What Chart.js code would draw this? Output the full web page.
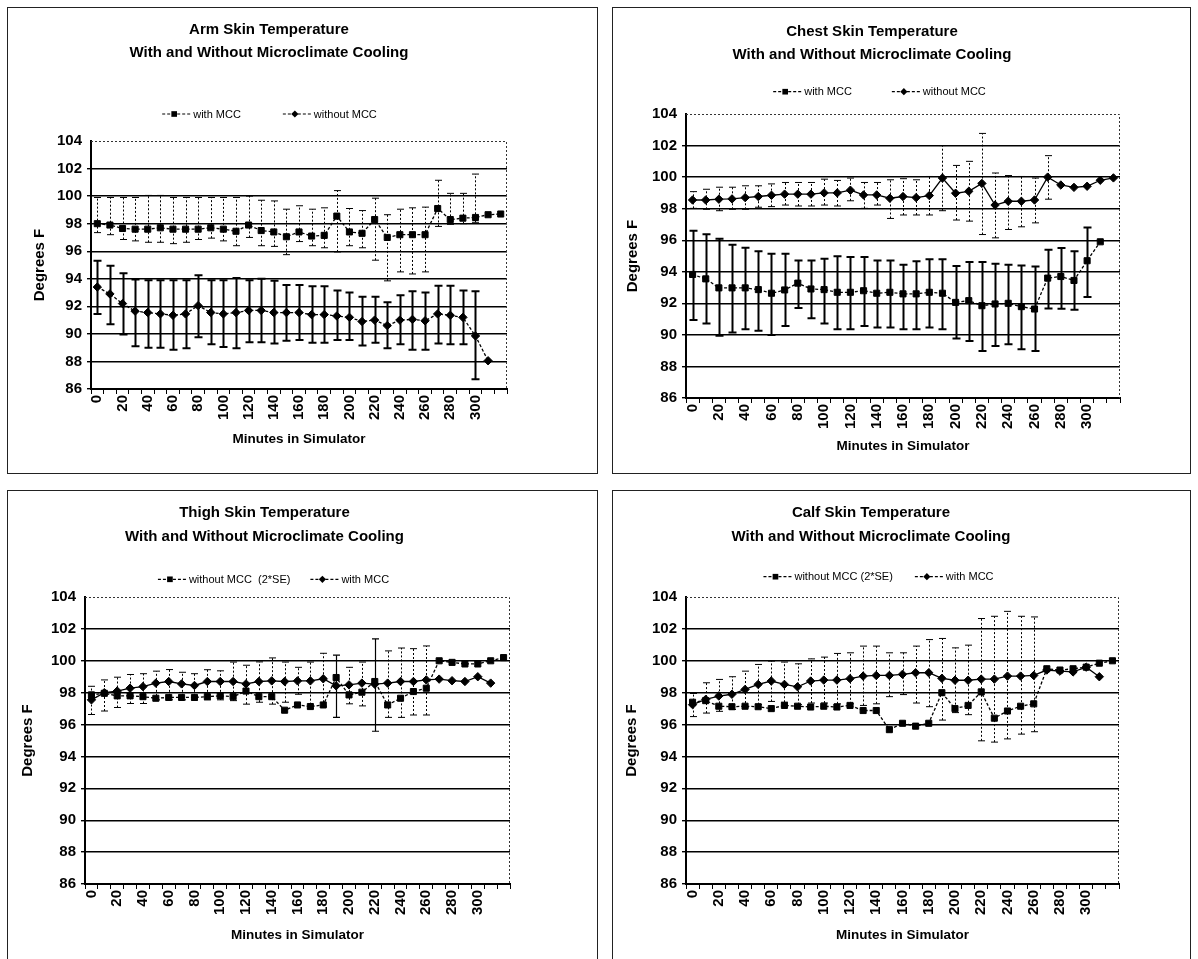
<!DOCTYPE html>
<html>
<head>
<meta charset="utf-8">
<script src="https://cdn.jsdelivr.net/npm/chart.js@4/dist/chart.umd.min.js"></script>
<style>
  html, body { margin: 0; padding: 0; background: #fff; width: 1198px; height: 959px; overflow: hidden; }
  .panel { position: absolute; border: 1px solid #222; box-sizing: border-box; background: #fff; }
  .panel canvas { display: block; }
</style>
</head>
<body>
<div class="panel" style="left:7px;top:7px;width:591px;height:467px"><canvas id="armChart"></canvas></div>
<div class="panel" style="left:612px;top:7px;width:579px;height:467px"><canvas id="chestChart"></canvas></div>
<div class="panel" style="left:7px;top:490px;width:591px;height:480px"><canvas id="thighChart"></canvas></div>
<div class="panel" style="left:612px;top:490px;width:579px;height:480px"><canvas id="calfChart"></canvas></div>
<script>
// Minutes in simulator (one category per 10 minutes) and the labelled ticks
const minutes = [0, 10, 20, 30, 40, 50, 60, 70, 80, 90, 100, 110, 120, 130, 140, 150, 160,
  170, 180, 190, 200, 210, 220, 230, 240, 250, 260, 270, 280, 290, 300, 310, 320];
const tickLabels = [0, 20, 40, 60, 80, 100, 120, 140, 160, 180, 200, 220, 240, 260, 280, 300];

// ---- Arm skin temperature (deg F) ----
const armWithMcc = [98.0, 97.9, 97.65, 97.6, 97.6, 97.7, 97.6, 97.6, 97.6, 97.7, 97.6, 97.45, 97.9, 97.5,
  97.4, 97.05, 97.4, 97.1, 97.15, 98.55, 97.4, 97.3, 98.3, 97.0, 97.2, 97.2, 97.2, 99.1, 98.3, 98.4,
  98.45, 98.65, 98.7];
const armWithMccHigh = [99.9, 99.9, 99.9, 99.9, 100.05, 100.05, 99.9, 99.9, 99.9, 99.9, 99.9, 99.9, 100.0,
  99.7, 99.65, 99.05, 99.3, 99.05, 99.15, 100.4, 99.1, 98.95, 99.85, 98.65, 99.05, 99.15, 99.2, 101.15,
  100.2, 100.2, 101.6, null, null];
const armWithMccLow = [97.35, 97.2, 96.85, 96.75, 96.65, 96.65, 96.55, 96.65, 96.85, 96.95, 96.75, 96.4,
  97.0, 96.4, 96.35, 95.75, 96.7, 96.4, 96.25, 95.95, 96.4, 96.25, 95.35, 93.85, 94.5, 94.35, 94.5, 97.8,
  97.95, 98.0, 98.1, null, null];
const armWithoutMcc = [93.4, 92.9, 92.2, 91.65, 91.55, 91.45, 91.35, 91.45, 92.05, 91.55, 91.45, 91.55,
  91.7, 91.7, 91.55, 91.55, 91.55, 91.4, 91.4, 91.3, 91.2, 90.9, 91.0, 90.6, 91.0, 91.05, 90.95, 91.45,
  91.35, 91.2, 89.85, 88.05];
const armWithoutMccHigh = [95.3, 94.95, 94.4, 93.95, 93.9, 93.9, 93.9, 93.9, 94.25, 93.9, 93.9, 94.05,
  93.9, 94.0, 93.85, 93.55, 93.55, 93.45, 93.45, 93.15, 93.0, 92.7, 92.7, 92.3, 92.8, 93.1, 93.0, 93.5,
  93.5, 93.15, 93.1, null];
const armWithoutMccLow = [91.45, 90.7, 89.95, 89.1, 89.0, 89.0, 88.85, 88.95, 89.75, 89.25, 89.05, 88.95,
  89.4, 89.4, 89.3, 89.5, 89.55, 89.35, 89.35, 89.55, 89.55, 89.15, 89.35, 88.95, 89.25, 88.85, 88.85,
  89.3, 89.25, 89.25, 86.7, null];

// ---- Chest skin temperature (deg F) ----
const chestWithMcc = [93.83, 93.55, 92.98, 92.98, 92.98, 92.87, 92.64, 92.85, 93.28, 92.91, 92.87, 92.7,
  92.7, 92.8, 92.64, 92.7, 92.6, 92.6, 92.7, 92.64, 92.06, 92.17, 91.85, 91.96, 92.0, 91.79, 91.64, 93.6,
  93.7, 93.45, 94.7, 95.9];
const chestWithMccHigh = [96.6, 96.38, 96.1, 95.72, 95.53, 95.3, 95.15, 95.15, 94.72, 94.72, 94.83, 94.98,
  94.94, 94.94, 94.72, 94.72, 94.45, 94.66, 94.79, 94.79, 94.36, 94.62, 94.62, 94.51, 94.45, 94.4, 94.34,
  95.4, 95.5, 95.3, 96.8, null];
const chestWithMccLow = [90.94, 90.72, 89.94, 90.15, 90.36, 90.26, 90.0, 90.57, 91.7, 91.06, 90.72, 90.36,
  90.36, 90.57, 90.47, 90.47, 90.36, 90.36, 90.47, 90.36, 89.77, 89.62, 88.98, 89.3, 89.4, 89.09, 88.98,
  91.68, 91.65, 91.6, 92.4, null];
const chestWithoutMcc = [98.55, 98.55, 98.6, 98.62, 98.7, 98.77, 98.85, 98.92, 98.92, 98.92, 99.0, 99.0,
  99.17, 98.87, 98.87, 98.66, 98.77, 98.7, 98.83, 99.94, 98.98, 99.1, 99.6, 98.23, 98.47, 98.47, 98.55,
  100.0, 99.5, 99.35, 99.42, 99.8, 99.95];
const chestWithoutMccHigh = [99.08, 99.23, 99.36, 99.36, 99.45, 99.45, 99.57, 99.66, 99.66, 99.66, 99.87,
  99.79, 99.94, 99.66, 99.66, 99.83, 99.9, 99.83, 100.04, 102.0, 100.74, 101.0, 102.77, 100.26, 100.1,
  100.04, 99.94, 101.36, null, null, null, null, null];
const chestWithoutMccLow = [98.02, 97.96, 97.87, 97.96, 97.96, 98.09, 98.13, 98.23, 98.17, 98.17, 98.23,
  98.17, 98.5, 98.02, 98.23, 97.38, 97.6, 97.6, 97.6, 97.87, 97.28, 97.21, 96.36, 96.15, 96.68, 96.85,
  97.1, 98.6, null, null, null, null, null];

// ---- Thigh skin temperature (deg F) ----
const thighWithoutMcc = [97.86, 97.96, 97.8, 97.8, 97.75, 97.65, 97.7, 97.7, 97.7, 97.75, 97.8, 97.75,
  98.1, 97.75, 97.75, 96.9, 97.23, 97.13, 97.23, 98.95, 97.86, 98.03, 98.7, 97.23, 97.65, 98.07, 98.28,
  100.0, 99.9, 99.8, 99.8, 100.0, 100.2];
const thighWithoutMccHigh = [null, null, null, null, null, null, null, null, null, null, null, null, null,
  null, null, null, null, null, null, 100.35, null, null, 101.37, null, null, null, null, null, null, null,
  null, null, null];
const thighWithoutMccLow = [null, null, null, null, null, null, null, null, null, null, null, null, null,
  null, null, null, null, null, null, 96.45, null, null, 95.58, null, null, null, null, null, null, null,
  null, null, null];
const thighWithMcc = [97.55, 98.0, 98.1, 98.28, 98.38, 98.6, 98.7, 98.55, 98.45, 98.7, 98.7, 98.7, 98.55,
  98.7, 98.74, 98.7, 98.74, 98.74, 98.87, 98.43, 98.49, 98.6, 98.53, 98.6, 98.7, 98.7, 98.8, 98.85, 98.75,
  98.7, 99.0, 98.6];
const thighWithMccHigh = [98.4, 98.8, 98.97, 99.14, 99.19, 99.35, 99.45, 99.28, 99.19, 99.44, 99.37,
  99.92, 99.72, 99.93, 100.18, 99.92, 99.59, 99.92, 100.47, null, 99.59, 99.92, null, 100.62, 100.8,
  100.76, 100.93, null, null, null, null, null];
const thighWithMccLow = [96.63, 96.85, 97.07, 97.32, 97.32, 97.55, 97.55, 97.55, 97.55, 97.55, 97.55,
  97.5, 97.28, 97.4, 97.28, 97.4, 97.9, 97.0, 97.15, null, 97.3, 97.17, null, 96.45, 96.45, 96.6, 96.6,
  null, null, null, null, null];

// ---- Calf skin temperature (deg F) ----
const calfWithoutMcc = [97.4, 97.5, 97.15, 97.12, 97.15, 97.12, 97.0, 97.2, 97.15, 97.1, 97.15, 97.1,
  97.2, 96.88, 96.88, 95.68, 96.08, 95.9, 96.08, 98.0, 97.0, 97.2, 98.05, 96.4, 96.85, 97.15, 97.3, 99.5,
  99.42, 99.5, 99.6, 99.85, 100.0];
const calfWithMcc = [97.25, 97.58, 97.79, 97.9, 98.2, 98.52, 98.73, 98.52, 98.37, 98.73, 98.79, 98.79,
  98.88, 99.04, 99.08, 99.08, 99.15, 99.25, 99.25, 98.9, 98.78, 98.78, 98.85, 98.85, 99.04, 99.04, 99.08,
  99.42, 99.35, 99.3, 99.6, 99.0];
const calfWithMccHigh = [97.95, 98.62, 98.83, 99.0, 99.35, 99.77, 99.98, 99.92, 99.81, 100.12, 100.23,
  100.46, 100.5, 100.92, 100.92, 100.5, 100.5, 100.92, 101.33, 101.4, 100.81, 100.98, 102.65, 102.79,
  103.1, 102.79, 102.75, null, null, null, null, null];
const calfWithMccLow = [96.5, 96.72, 96.83, 96.95, 97.1, 97.25, 97.45, 97.4, 97.25, 97.35, 97.35, 97.3,
  97.3, 97.2, 97.3, 97.75, 97.88, 97.35, 97.12, 96.28, 96.75, 96.62, 94.98, 94.9, 95.1, 95.4, 95.55,
  null, null, null, null, null];

const FONT = '"Liberation Sans", Arial, Helvetica, sans-serif';
Chart.defaults.font.family = FONT;
Chart.defaults.color = '#000';

const DOTTED = [3, 2];

// Vertical error bars with caps, drawn under the markers
const errorBars = {
  id: 'errorBars',
  beforeDatasetsDraw(chart) {
    const { ctx, scales: { x, y } } = chart;
    chart.data.datasets.forEach((ds) => {
      const eb = ds.errorBars;
      if (!eb) return;
      ctx.save();
      ctx.strokeStyle = '#000';
      ctx.lineWidth = eb.width;
      eb.low.forEach((lo, i) => {
        const hi = eb.high[i];
        if (lo == null || hi == null) return;
        const px = Math.round(x.getPixelForValue(i)) + 0.5;
        const pLo = y.getPixelForValue(lo);
        const pHi = y.getPixelForValue(hi);
        ctx.setLineDash(eb.dash);
        ctx.beginPath();
        ctx.moveTo(px, pLo);
        ctx.lineTo(px, pHi);
        ctx.stroke();
        ctx.setLineDash([]);
        ctx.beginPath();
        ctx.moveTo(px - eb.cap, pLo); ctx.lineTo(px + eb.cap, pLo);
        ctx.moveTo(px - eb.cap, pHi); ctx.lineTo(px + eb.cap, pHi);
        ctx.stroke();
      });
      ctx.restore();
    });
  }
};

// Dotted top and right edges of the plot area
const plotFrame = {
  id: 'plotFrame',
  beforeDatasetsDraw(chart) {
    const { ctx, chartArea: a } = chart;
    ctx.save();
    ctx.strokeStyle = '#333';
    ctx.lineWidth = 1;
    ctx.setLineDash([2, 2]);
    ctx.beginPath();
    ctx.moveTo(a.left, Math.round(a.top) + 0.5);
    ctx.lineTo(Math.round(a.right) - 0.5, Math.round(a.top) + 0.5);
    ctx.lineTo(Math.round(a.right) - 0.5, a.bottom);
    ctx.stroke();
    ctx.restore();
  }
};

function markerPath(ctx, style, x, y, r) {
  ctx.beginPath();
  if (style === 'rectRot') {
    ctx.moveTo(x - r, y); ctx.lineTo(x, y - r); ctx.lineTo(x + r, y); ctx.lineTo(x, y + r);
  } else {
    const h = r * Math.SQRT1_2;
    ctx.rect(x - h, y - h, 2 * h, 2 * h);
  }
  ctx.closePath();
}

// Legend: a short dotted line carrying the series marker, then the label
const lineLegend = {
  id: 'lineLegend',
  afterDraw(chart, args, opts) {
    const { ctx } = chart;
    const lineLen = 30, markerAt = 12, textGap = 1;
    ctx.save();
    ctx.font = '11px ' + FONT;
    ctx.textBaseline = 'middle';
    ctx.fillStyle = '#000';
    ctx.strokeStyle = '#000';
    const items = chart.data.datasets;
    const widths = items.map(ds => lineLen + textGap + ctx.measureText(ds.label).width);
    const total = widths.reduce((a, b) => a + b, 0) + opts.gap * (items.length - 1);
    let x = opts.centerX - total / 2;
    items.forEach((ds, i) => {
      ctx.lineWidth = 1.2;
      ctx.setLineDash(DOTTED);
      ctx.beginPath();
      ctx.moveTo(x, opts.y);
      ctx.lineTo(x + lineLen, opts.y);
      ctx.stroke();
      ctx.setLineDash([]);
      markerPath(ctx, ds.pointStyle, x + markerAt, opts.y, ds.pointStyle === 'rectRot' ? 3.6 : 4);
      ctx.fill();
      ctx.fillText(ds.label, x + lineLen + textGap, opts.y + 0.5);
      x += widths[i] + opts.gap;
    });
    ctx.restore();
  }
};

function series(label, data, style, dash, bars) {
  return {
    label, data,
    pointStyle: style,
    pointRadius: style === 'rectRot' ? 4.2 : 4.3,
    pointBorderWidth: 1,
    pointBorderColor: '#000',
    pointBackgroundColor: '#000',
    borderColor: '#000',
    backgroundColor: '#000',
    borderWidth: 1.3,
    borderDash: dash,
    fill: false,
    tension: 0,
    errorBars: bars
  };
}

function buildChart(id, p) {
  return new Chart(document.getElementById(id), {
    type: 'line',
    data: { labels: minutes.map(String), datasets: p.datasets },
    options: {
      responsive: true,
      maintainAspectRatio: false,
      animation: false,
      devicePixelRatio: 1,
      events: [],
      layout: { padding: { left: p.padLeft, right: p.padRight, top: 0, bottom: p.padBottom } },
      plugins: {
        legend: { display: false },
        tooltip: { enabled: false },
        title: {
          display: true,
          text: p.title,
          color: '#000',
          font: { size: 15, weight: 'bold', lineHeight: p.titleLine / 15 },
          padding: { top: p.titleTop, bottom: p.titleBottom }
        },
        lineLegend: { centerX: p.legendX, y: p.legendY, gap: p.legendGap }
      },
      scales: {
        x: {
          type: 'category',
          offset: true,
          grid: { display: true, drawOnChartArea: false, drawTicks: true, tickLength: 5, offset: true, color: '#000', lineWidth: 1 },
          border: { display: true, color: '#000', width: 2 },
          ticks: {
            autoSkip: false, minRotation: 90, maxRotation: 90, padding: 1,
            font: { size: 15, weight: 'bold' }, color: '#000',
            callback: (v, i) => tickLabels.includes(minutes[i]) ? String(minutes[i]) : ''
          },
          title: { display: true, text: 'Minutes in Simulator', color: '#000', font: { size: 13.5, weight: 'bold', lineHeight: 1.2 }, padding: 0 },
          afterFit: (s) => { s.height = p.xHeight; }
        },
        y: {
          min: 86, max: 104,
          grid: {
            color: (c) => (c.tick && c.tick.value === 104) ? 'rgba(0,0,0,0)' : '#000',
            lineWidth: 1.4, drawTicks: true, tickLength: 4
          },
          border: { display: true, color: '#000', width: 2 },
          ticks: { stepSize: 2, padding: 5, font: { size: 15, weight: 'bold' }, color: '#000' },
          title: { display: true, text: 'Degrees F', color: '#000', font: { size: 15, weight: 'bold', lineHeight: 1.2 }, padding: 0 },
          afterFit: (s) => { s.width = p.yWidth; }
        }
      }
    },
    plugins: [plotFrame, errorBars, lineLegend]
  });
}

const thinBars = (low, high) => ({ low, high, width: 1, dash: [2, 2], cap: 3.5 });
const thickBars = (low, high) => ({ low, high, width: 2, dash: [], cap: 4 });
const titleLine2 = 'With and Without Microclimate Cooling';

buildChart('armChart', {
  title: ['Arm Skin Temperature', titleLine2],
  titleLine: 23, titleTop: 10.5, titleBottom: 76.5,
  padLeft: 23, padRight: 90, padBottom: 25.9, yWidth: 60, xHeight: 58.1,
  legendX: 261.5, legendY: 106, legendGap: 42,
  datasets: [
    series('with MCC', armWithMcc, 'rect', DOTTED, thinBars(armWithMccLow, armWithMccHigh)),
    series('without MCC', armWithoutMcc, 'rectRot', DOTTED, thickBars(armWithoutMccLow, armWithoutMccHigh))
  ]
});

buildChart('chestChart', {
  title: ['Chest Skin Temperature', titleLine2],
  titleLine: 23, titleTop: 12.2, titleBottom: 47.8,
  padLeft: 11, padRight: 70, padBottom: 18.2, yWidth: 62, xHeight: 56.8,
  legendX: 266.5, legendY: 83.7, legendGap: 40,
  datasets: [
    series('with MCC', chestWithMcc, 'rect', DOTTED, thickBars(chestWithMccLow, chestWithMccHigh)),
    series('without MCC', chestWithoutMcc, 'rectRot', [], thinBars(chestWithoutMccLow, chestWithoutMccHigh))
  ]
});

buildChart('thighChart', {
  title: ['Thigh Skin Temperature', titleLine2],
  titleLine: 24, titleTop: 10.3, titleBottom: 47.7,
  padLeft: 11, padRight: 87, padBottom: 25.9, yWidth: 66, xHeight: 59.1,
  legendX: 265.5, legendY: 88.3, legendGap: 20,
  datasets: [
    series('without MCC  (2*SE)', thighWithoutMcc, 'rect', DOTTED, { low: thighWithoutMccLow, high: thighWithoutMccHigh, width: 1.2, dash: [], cap: 3.5 }),
    series('with MCC', thighWithMcc, 'rectRot', [], thinBars(thighWithMccLow, thighWithMccHigh))
  ]
});

buildChart('calfChart', {
  title: ['Calf Skin Temperature', titleLine2],
  titleLine: 24, titleTop: 9.7, titleBottom: 48.3,
  padLeft: 10, padRight: 71, padBottom: 25.9, yWidth: 63, xHeight: 59.1,
  legendX: 265.5, legendY: 85.7, legendGap: 22,
  datasets: [
    series('without MCC (2*SE)', calfWithoutMcc, 'rect', DOTTED, null),
    series('with MCC', calfWithMcc, 'rectRot', [], thinBars(calfWithMccLow, calfWithMccHigh))
  ]
});
</script>
</body>
</html>
